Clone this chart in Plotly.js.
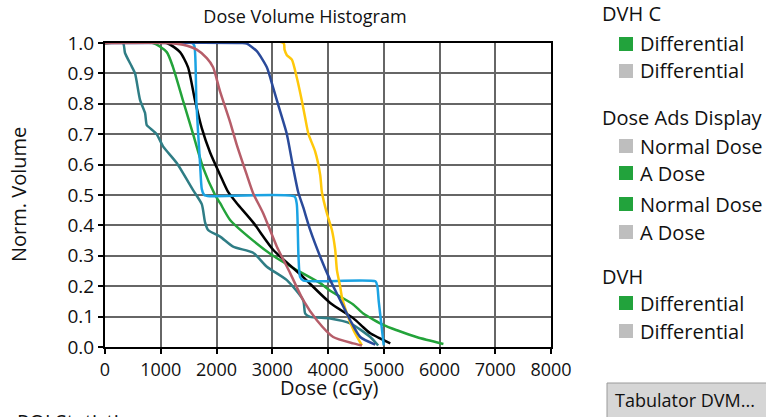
<!DOCTYPE html>
<html>
<head>
<meta charset="utf-8">
<script src="https://cdn.plot.ly/plotly-3.0.1.min.js"></script>
<style>html,body{margin:0;padding:0;background:#fff;}#chart{width:766px;height:417px;}</style>
</head>
<body>
<div id="chart"></div>
<script>
// ---- Data (Dose in cGy, normalized volume) ----
const tealDose = [0, 323, 359, 479, 539, 628, 718, 749, 808, 928, 1041, 1287, 1580, 1736, 1795, 1849, 2065, 2298, 2657, 2903, 3262, 3555, 3591, 3680, 4040, 4399, 4758, 4900];
const tealVol  = [1.0, 1.0, 0.967, 0.923, 0.90, 0.813, 0.77, 0.73, 0.72, 0.70, 0.66, 0.605, 0.516, 0.47, 0.41, 0.385, 0.363, 0.33, 0.31, 0.264, 0.22, 0.154, 0.11, 0.099, 0.094, 0.078, 0.033, 0.005];

const greenDose = [0, 862, 1108, 1221, 1400, 1580, 1759, 1975, 2065, 2244, 2657, 3016, 3375, 3860, 4040, 4452, 4632, 5000, 5237, 5600, 6070];
const greenVol  = [1.0, 1.0, 0.97, 0.92, 0.81, 0.70, 0.59, 0.50, 0.473, 0.418, 0.35, 0.30, 0.26, 0.21, 0.185, 0.14, 0.11, 0.072, 0.055, 0.032, 0.01];

const blackDose = [0, 1108, 1346, 1490, 1616, 1736, 1885, 2065, 2208, 2364, 2657, 3016, 3555, 4040, 4452, 4632, 4758, 5117];
const blackVol  = [1.0, 1.0, 0.97, 0.92, 0.81, 0.72, 0.64, 0.566, 0.51, 0.473, 0.41, 0.32, 0.23, 0.145, 0.095, 0.065, 0.045, 0.012];

const lightBlueDose = [0, 1560, 1603, 1640, 1706, 1736, 1780, 1880, 3400, 3440, 3470, 3500, 3560, 4850, 4885, 4910, 5000];
const lightBlueVol  = [1.0, 1.0, 0.99, 0.80, 0.60, 0.52, 0.50, 0.496, 0.495, 0.47, 0.30, 0.23, 0.218, 0.216, 0.20, 0.15, 0.005];

const pinkDose = [0, 1100, 1400, 1646, 1826, 1939, 2065, 2244, 2364, 2544, 2657, 2837, 3083, 3321, 3555, 3800, 4093, 4452, 4608];
const pinkVol  = [1.0, 1.0, 0.994, 0.978, 0.95, 0.92, 0.84, 0.74, 0.665, 0.566, 0.506, 0.44, 0.33, 0.243, 0.154, 0.088, 0.033, 0.012, 0.005];

const darkBlueDose = [0, 2450, 2544, 2723, 2903, 3016, 3142, 3262, 3375, 3465, 3555, 3680, 3860, 4040, 4219, 4399, 4578, 4847];
const darkBlueVol  = [1.0, 1.0, 0.998, 0.973, 0.92, 0.853, 0.775, 0.70, 0.59, 0.51, 0.46, 0.385, 0.297, 0.22, 0.154, 0.088, 0.033, 0.008];

const yellowDose = [0, 3202, 3220, 3262, 3352, 3442, 3531, 3591, 3650, 3770, 3860, 3890, 3980, 4070, 4129, 4160, 4219, 4249, 4339, 4458, 4608];
const yellowVol  = [1.0, 1.0, 0.978, 0.96, 0.945, 0.885, 0.81, 0.753, 0.70, 0.643, 0.566, 0.51, 0.44, 0.385, 0.32, 0.253, 0.198, 0.165, 0.11, 0.055, 0.005];

const xTicks = [0, 1000, 2000, 3000, 4000, 5000, 6000, 7000, 8000];
const yTicks = [0.0, 0.1, 0.2, 0.3, 0.4, 0.5, 0.6, 0.7, 0.8, 0.9, 1.0];

// Legend panel contents
const legendHeaders = ["DVH C", "Dose Ads Display", "DVH"];
const legendItems = [
  {label: "Differential", color: "#22a33c"},
  {label: "Differential", color: "#bebebe"},
  {label: "Normal Dose", color: "#bebebe"},
  {label: "A Dose", color: "#22a33c"},
  {label: "Normal Dose", color: "#22a33c"},
  {label: "A Dose", color: "#bebebe"},
  {label: "Differential", color: "#22a33c"},
  {label: "Differential", color: "#bebebe"}
];

// ---- layout helpers (pixel -> paper) ----
const W = 766, H = 417;
const mL = 105, mR = 766 - 551, mT = 43, mB = 417 - 347;
const pw = W - mL - mR, ph = H - mT - mB;
const px = x => (x - mL) / pw;
const py = y => (H - mB - y) / ph;

const FONT = "Open Sans, Noto Sans, sans-serif";
const TXT = "#111";

function line(x, y, color, shape) {
  return {x: x, y: y, type: "scatter", mode: "lines", cliponaxis: false,
    line: {color: color, width: 2.5, shape: shape || "spline", smoothing: 0.6},
    hoverinfo: "skip", showlegend: false};
}

const traces = [
  line(tealDose, tealVol, "#2f7d85"),
  line(greenDose, greenVol, "#23a33a"),
  line(blackDose, blackVol, "#000000"),
  line(lightBlueDose, lightBlueVol, "#1ba3e3"),
  line(yellowDose, yellowVol, "#ffc80a"),
  line(darkBlueDose, darkBlueVol, "#2a4a9a"),
  line(pinkDose, pinkVol, "#b65d69")
];

const annotations = [];
const shapes = [];
const headerY = [14, 117, 276];
const itemY = [44, 71, 146, 173, 204, 232, 303, 331];
legendHeaders.forEach((h, i) => {
  annotations.push({text: h, xref: "paper", yref: "paper", x: px(600), y: py(headerY[i]),
    xanchor: "left", yanchor: "middle", showarrow: false, font: {family: FONT, size: 20, color: TXT}});
});
legendItems.forEach((it, i) => {
  const cy = itemY[i];
  shapes.push({type: "rect", xref: "paper", yref: "paper", x0: px(619), x1: px(633), y0: py(cy + 7), y1: py(cy - 7),
    fillcolor: it.color, line: {width: 0}});
  annotations.push({text: it.label, xref: "paper", yref: "paper", x: px(638), y: py(cy),
    xanchor: "left", yanchor: "middle", showarrow: false, font: {family: FONT, size: 20, color: TXT}});
});
// button
shapes.push({type: "rect", xref: "paper", yref: "paper", x0: px(607), x1: px(768), y0: py(420), y1: py(383),
  fillcolor: "#d6d6d6", line: {color: "#9a9a9a", width: 1}});
annotations.push({text: "Tabulator DVM...", xref: "paper", yref: "paper", x: px(613), y: py(400),
  xanchor: "left", yanchor: "middle", showarrow: false, font: {family: FONT, size: 18, color: TXT}});
// cut-off text at bottom
annotations.push({text: "ROI Statistics", xref: "paper", yref: "paper", x: px(15), y: py(421),
  xanchor: "left", yanchor: "middle", showarrow: false, font: {family: FONT, size: 20, color: TXT}});
// axis titles
annotations.push({text: "Dose (cGy)", xref: "paper", yref: "paper", x: px(329), y: py(387),
  xanchor: "center", yanchor: "middle", showarrow: false, font: {family: FONT, size: 20, color: TXT}});
annotations.push({text: "Norm. Volume", xref: "paper", yref: "paper", x: px(18), y: py(195),
  xanchor: "center", yanchor: "middle", textangle: -90, showarrow: false, font: {family: FONT, size: 20, color: TXT}});

const layout = {
  width: W, height: H,
  margin: {l: mL, r: mR, t: mT, b: mB},
  paper_bgcolor: "#fff", plot_bgcolor: "#fff",
  showlegend: false,
  title: {text: "Dose Volume Histogram", x: 305 / W, xref: "container", xanchor: "center",
    y: 1 - 17 / H, yref: "container", yanchor: "middle", font: {family: FONT, size: 18, color: TXT}},
  xaxis: {range: [0, 8000], tickvals: xTicks, ticktext: xTicks.map(String),
    showgrid: true, gridcolor: "#666", gridwidth: 2,
    showline: true, linecolor: "#000", linewidth: 2, mirror: true,
    ticks: "outside", ticklen: 5, tickwidth: 2, tickcolor: "#000",
    zeroline: false, layer: "below traces",
    tickfont: {family: FONT, size: 18, color: TXT}},
  yaxis: {range: [0, 1], tickvals: yTicks, ticktext: yTicks.map(v => v.toFixed(1)),
    showgrid: true, gridcolor: "#666", gridwidth: 2,
    showline: true, linecolor: "#000", linewidth: 2, mirror: true,
    ticks: "outside", ticklen: 5, tickwidth: 2, tickcolor: "#000",
    zeroline: false, layer: "below traces",
    tickfont: {family: FONT, size: 19, color: TXT}},
  annotations: annotations,
  shapes: shapes
};

Plotly.newPlot("chart", traces, layout, {displayModeBar: false, staticPlot: true});
</script>
</body>
</html>
